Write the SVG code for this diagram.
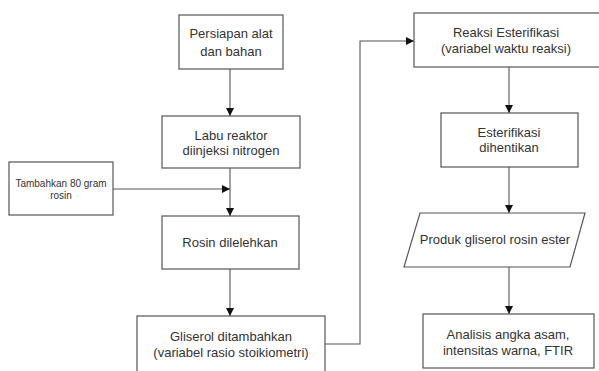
<svg xmlns="http://www.w3.org/2000/svg" width="599" height="371" viewBox="0 0 599 371">
<style>
.box{fill:#fff;stroke:#555;stroke-width:1.2}
.t{font-family:"Liberation Sans",Arial,sans-serif;font-size:13px;fill:#333;text-anchor:middle}
.s{font-size:10px}
.c{fill:none;stroke:#555;stroke-width:1.1}
</style>
<defs>
<marker id="ah" viewBox="0 0 10 10" refX="10" refY="5" markerWidth="8" markerHeight="8" markerUnits="userSpaceOnUse" orient="auto">
<path d="M0,0 L10,5 L0,10 Z" fill="#111"/>
</marker>
</defs>
<rect width="599" height="371" fill="#fff"/>
<g id="connectors">
<line class="c" x1="230" y1="69" x2="230" y2="116" marker-end="url(#ah)"/>
<line class="c" x1="230" y1="168" x2="230" y2="216" marker-end="url(#ah)"/>
<line class="c" x1="113" y1="189" x2="230" y2="189" marker-end="url(#ah)"/>
<line class="c" x1="230" y1="269" x2="230" y2="316" marker-end="url(#ah)"/>
<polyline class="c" points="325,344 360,344 360,41 414,41" marker-end="url(#ah)"/>
<line class="c" x1="509" y1="67" x2="509" y2="113" marker-end="url(#ah)"/>
<line class="c" x1="509" y1="167" x2="509" y2="213" marker-end="url(#ah)"/>
<line class="c" x1="509" y1="267" x2="509" y2="314" marker-end="url(#ah)"/>
</g>
<g id="n1"><rect class="box" x="179" y="15" width="104" height="54"/>
<text class="t" x="231" y="38">Persiapan alat</text><text class="t" x="231" y="56">dan bahan</text></g>
<g id="n2"><rect class="box" x="162" y="116" width="138" height="52"/>
<text class="t" x="231" y="140">Labu reaktor</text><text class="t" x="231" y="155">diinjeksi nitrogen</text></g>
<g id="n3"><rect class="box" x="9" y="162" width="104" height="53"/>
<text class="t s" x="61" y="187">Tambahkan 80 gram</text><text class="t s" x="61" y="199">rosin</text></g>
<g id="n4"><rect class="box" x="162" y="216" width="137" height="53"/>
<text class="t" x="230" y="247">Rosin dilelehkan</text></g>
<g id="n5"><rect class="box" x="137" y="316" width="188" height="70"/>
<text class="t" x="231" y="341">Gliserol ditambahkan</text><text class="t" x="231" y="357">(variabel rasio stoikiometri)</text></g>
<g id="n6"><rect class="box" x="414" y="13" width="190" height="54"/>
<text class="t" x="506" y="37">Reaksi Esterifikasi</text><text class="t" x="506" y="53">(variabel waktu reaksi)</text></g>
<g id="n7"><rect class="box" x="441" y="113" width="137" height="54"/>
<text class="t" x="509" y="137">Esterifikasi</text><text class="t" x="509" y="152">dihentikan</text></g>
<g id="n8"><polygon class="box" points="420,213 585,213 570,267 404,267"/>
<text class="t" x="495" y="244">Produk gliserol rosin ester</text></g>
<g id="n9"><rect class="box" x="423" y="314" width="171" height="54"/>
<text class="t" x="508" y="339">Analisis angka asam,</text><text class="t" x="508" y="355">intensitas warna, FTIR</text></g>
</svg>
